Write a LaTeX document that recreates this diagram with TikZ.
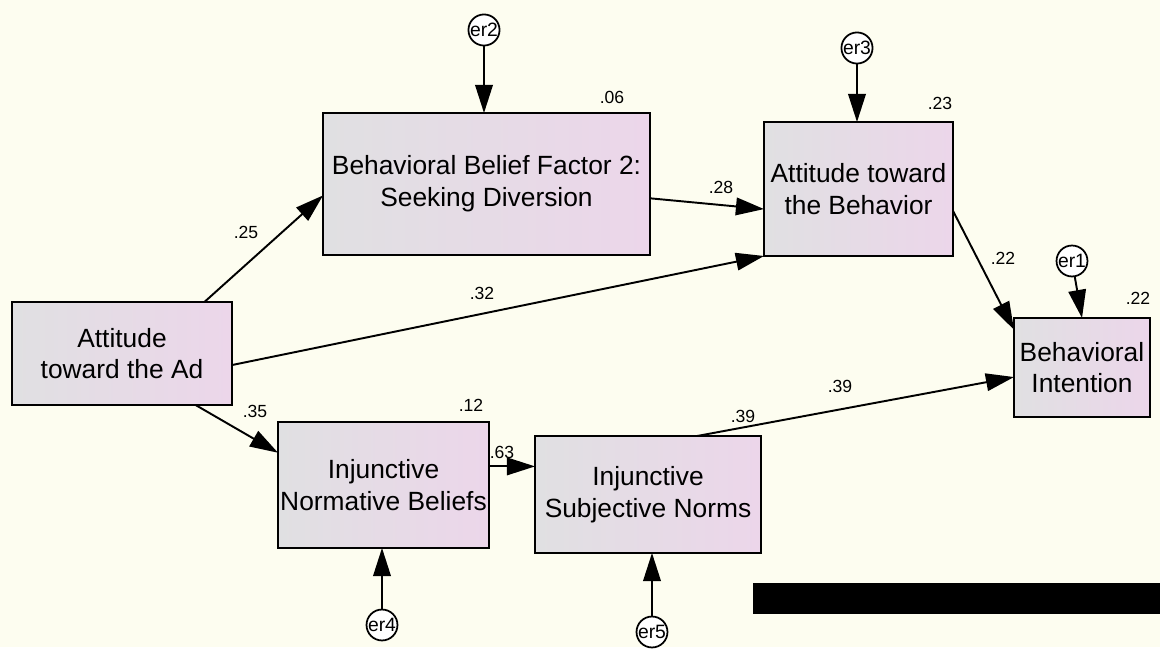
\documentclass[tikz,border=0pt]{standalone}
\usepackage{fontspec}
\setmainfont{Liberation Sans}
\usetikzlibrary{arrows.meta}

\definecolor{paper}{RGB}{253,253,240}
\definecolor{boxleft}{RGB}{224,224,226}
\definecolor{boxright}{RGB}{236,214,234}

\begin{document}
\begin{tikzpicture}[
  x=0.02cm, y=-0.02cm,
  font=\fontsize{15}{18}\selectfont,
  box/.style={draw, line width=1.3pt, align=center, inner sep=0pt, outer sep=0pt, left color=boxleft, right color=boxright},
  err/.style={draw, circle, line width=1pt, fill=white, minimum size=0.5cm, inner sep=0pt, font=\fontsize{11}{11}\selectfont},
  coef/.style={font=\fontsize{10}{10}\selectfont, inner sep=1pt},
  arrow/.style={-{Triangle[length=16pt,width=10pt]}, line width=1.1pt}
]

\fill[paper] (0,0) rectangle (1160,647);

\node[box, minimum width=4.4cm, minimum height=2.06cm] (ad) at (122,353.5) {Attitude\\toward the Ad};
\node[box, minimum width=6.54cm, minimum height=2.84cm] (bbf) at (486.5,184) {Behavioral Belief Factor 2:\\Seeking Diversion};
\node[box, minimum width=3.78cm, minimum height=2.68cm] (attb) at (858.5,189) {Attitude toward\\the Behavior};
\node[box, minimum width=2.72cm, minimum height=1.98cm] (bi) at (1082,367.5) {Behavioral\\Intention};
\node[box, minimum width=4.22cm, minimum height=2.52cm] (inb) at (383.5,485) {Injunctive\\Normative Beliefs};
\node[box, minimum width=4.52cm, minimum height=2.34cm] (isn) at (648,494.5) {Injunctive\\Subjective Norms};

\node[err] (er2) at (484,30) {er2};
\node[err] (er3) at (857,48) {er3};
\node[err] (er1) at (1072,261) {er1};
\node[err] (er4) at (382,625) {er4};
\node[err] (er5) at (652,632) {er5};

\draw[arrow] (er2) -- (er2 |- bbf.north);
\draw[arrow] (er3) -- (er3 |- attb.north);
\draw[arrow] (er1) -- (bi.north);
\draw[arrow] (er4) -- (er4 |- inb.south);
\draw[arrow] (er5) -- (er5 |- isn.south);

\draw[arrow] (ad.32) -- (bbf.184);
\draw[arrow] (ad.-6.5) -- (attb.south west);
\draw[arrow] (ad.-35) -- (inb.163);
\draw[arrow] (bbf.-5.6) -- (attb.192.5);
\draw[arrow] (attb.-13.7) -- (bi.151);
\draw[arrow] (inb.10) -- (inb.10 -| isn.west);
\draw[arrow] (isn.50) -- (bi.188);

\node[coef] (r06) at (612,97) {.06};
\node[coef] (r23) at (940,103) {.23};
\node[coef] (r22) at (1138,298) {.22};
\node[coef] (r12) at (471,405) {.12};
\node[coef] (r39) at (743,416) {.39};

\node[coef] (p25) at (246,232) {.25};
\node[coef] (p32) at (482,293) {.32};
\node[coef] (p35) at (255,411) {.35};
\node[coef] (p28) at (721,187) {.28};
\node[coef] (p22) at (1003,258) {.22};
\node[coef] (p63) at (502,452) {.63};
\node[coef] (p39) at (840,386) {.39};

\fill[black] (753,583) rectangle (1160,614);

\end{tikzpicture}
\end{document}
